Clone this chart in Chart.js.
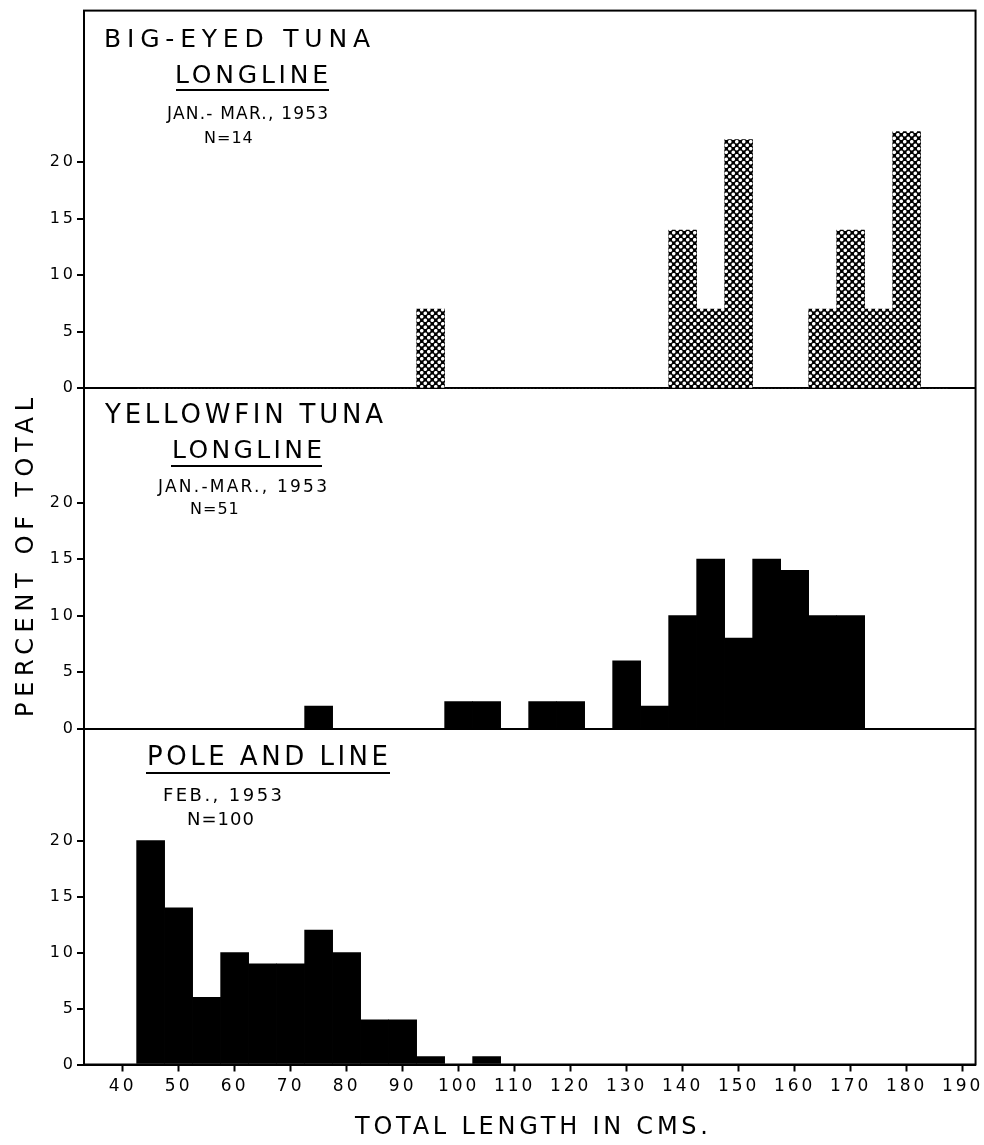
<!DOCTYPE html>
<html>
<head>
<meta charset="utf-8">
<script src="https://cdn.jsdelivr.net/npm/chart.js@4.4.1/dist/chart.umd.min.js"></script>
<style>
html,body{margin:0;padding:0;background:#fff;}
#wrap{width:984px;height:1145px;position:relative;}
</style>
</head>
<body>
<div id="wrap"><canvas id="c" width="984" height="1145"></canvas></div>
<script>
// ---- data (percent of total, 5-cm length classes) ----
const binCenters = [45,50,55,60,65,70,75,80,85,90,95,100,105,110,115,120,125,130,135,140,145,150,155,160,165,170,175,180,185];
const bigEyedLongline = [0,0,0,0,0,0,0,0,0,0,7,0,0,0,0,0,0,0,0,14,7,22,0,0,7,14,7,22.7,0];
const yellowfinLongline = [0,0,0,0,0,0,2,0,0,0,0,2.4,2.4,0,2.4,2.4,0,6,2,10,15,8,15,14,10,10,0,0,0];
const poleAndLine = [20,14,6,10,9,9,12,10,4,4,0.7,0,0.7,0,0,0,0,0,0,0,0,0,0,0,0,0,0,0,0];
const xTickValues = [40,50,60,70,80,90,100,110,120,130,140,150,160,170,180,190];
const yTickValues = [0,5,10,15,20];

const FONT = '"DejaVu Sans", sans-serif';

// crosshatch (white dots on black) pattern for the big-eyed panel
function makePattern() {
  const t = document.createElement('canvas');
  t.width = 7; t.height = 7;
  const c = t.getContext('2d');
  c.fillStyle = '#000';
  c.fillRect(0, 0, 7, 7);
  c.fillStyle = '#fff';
  [[1.75,1.75],[5.25,5.25],[-1.75,5.25],[5.25,-1.75],[8.75,5.25],[5.25,8.75]].forEach(([x,y]) => { c.beginPath(); c.arc(x, y, 1.8, 0, Math.PI*2); c.fill(); });
  return document.getElementById('c').getContext('2d').createPattern(t, 'repeat');
}

const toPoints = arr => binCenters.map((x, i) => ({x: x, y: arr[i]}));

// text annotations: [text, left x, baseline y, width, font size]
const annotations = [
  ['BIG-EYED TUNA', 104, 47, 266, 25],
  ['LONGLINE', 175, 83, 153, 25],
  ['JAN.- MAR., 1953', 167, 119, 161, 17],
  ['N=14', 204, 143, 46, 16],
  ['YELLOWFIN TUNA', 105, 423, 278, 26],
  ['LONGLINE', 172, 458, 150, 25],
  ['JAN.-MAR., 1953', 158, 492, 169, 17],
  ['N=51', 190, 514, 48, 16],
  ['POLE AND LINE', 147, 765, 241, 26],
  ['FEB., 1953', 163, 801, 119, 18],
  ['N=100', 187, 825, 66, 18]
];
const underlines = [[176, 90, 153], [171, 466, 151], [146, 773, 244]];

function drawSpaced(ctx, text, x, y, w, size) {
  ctx.font = size + 'px ' + FONT;
  ctx.letterSpacing = '0px';
  const m = ctx.measureText(text).width;
  const sp = Math.max(1, (w - m) / (text.length - 1));
  ctx.letterSpacing = sp + 'px';
  ctx.fillText(text, x, y);
}

const framePlugin = {
  id: 'frame',
  beforeDraw(chart) { chart.ctx.letterSpacing = '3px'; },
  afterDraw(chart) {
    const ctx = chart.ctx, a = chart.chartArea;
    ctx.save();
    ctx.strokeStyle = '#000';
    ctx.lineWidth = 2;
    ctx.strokeRect(a.left, a.top, a.right - a.left, a.bottom - a.top);
    ctx.fillStyle = '#000';
    ctx.textAlign = 'left';
    ctx.textBaseline = 'alphabetic';
    annotations.forEach(([t, x, y, w, s]) => drawSpaced(ctx, t, x, y, w, s));
    underlines.forEach(([x, y, w]) => ctx.fillRect(x, y - 1, w, 2));
    // axis titles
    drawSpaced(ctx, 'TOTAL LENGTH IN CMS.', 355, 1134, 353, 24);
    ctx.translate(33, 717);
    ctx.rotate(-Math.PI / 2);
    drawSpaced(ctx, 'PERCENT OF TOTAL', 0, 0, 319, 24);
    ctx.restore();
  }
};

function yAxis(max, weight) {
  return {
    type: 'linear',
    position: 'left',
    stack: 'panels',
    stackWeight: weight,
    min: 0,
    max: max,
    afterBuildTicks: s => { s.ticks = yTickValues.map(v => ({value: v})); },
    afterFit: s => { s.width = 50; },
    grid: {
      drawOnChartArea: true,
      drawTicks: true,
      tickLength: 7,
      lineWidth: 2,
      tickWidth: 2,
      tickColor: '#000',
      color: c => (c.tick && c.tick.value === 0) ? '#000' : 'rgba(0,0,0,0)'
    },
    border: {display: true, color: '#000', width: 2},
    ticks: {color: '#000', padding: 1, font: {family: FONT, size: 16}}
  };
}

const barOpts = {barPercentage: 1, categoryPercentage: 1, borderWidth: 0, grouped: false};

new Chart(document.getElementById('c'), {
  type: 'bar',
  data: {
    datasets: [
      Object.assign({label: 'Big-eyed tuna, longline', data: toPoints(bigEyedLongline), yAxisID: 'yTop', backgroundColor: makePattern()}, barOpts),
      Object.assign({label: 'Yellowfin tuna, longline', data: toPoints(yellowfinLongline), yAxisID: 'yMid', backgroundColor: '#000'}, barOpts),
      Object.assign({label: 'Pole and line', data: toPoints(poleAndLine), yAxisID: 'yBot', backgroundColor: '#000'}, barOpts)
    ]
  },
  options: {
    responsive: false,
    animation: false,
    layout: {padding: {left: 34, right: 7, top: 7, bottom: 40.5}},
    plugins: {legend: {display: false}, tooltip: {enabled: false}, title: {display: false}},
    scales: {
      x: {
        type: 'linear',
        position: 'bottom',
        offset: false,
        min: 33.1,
        max: 192.3,
        afterBuildTicks: s => { s.ticks = xTickValues.map(v => ({value: v})); },
        afterFit: s => { s.height = 40; },
        grid: {offset: false, drawOnChartArea: false, drawTicks: true, tickLength: 7, tickWidth: 2, tickColor: '#000', color: '#000'},
        border: {display: true, color: '#000', width: 2},
        ticks: {color: '#000', padding: 5, autoSkip: false, maxRotation: 0, font: {family: FONT, size: 17}}
      },
      yBot: yAxis(30, 337),
      yMid: yAxis(30.1, 341.5),
      yTop: yAxis(33.4, 379)
    }
  },
  plugins: [framePlugin]
});
</script>
</body>
</html>
